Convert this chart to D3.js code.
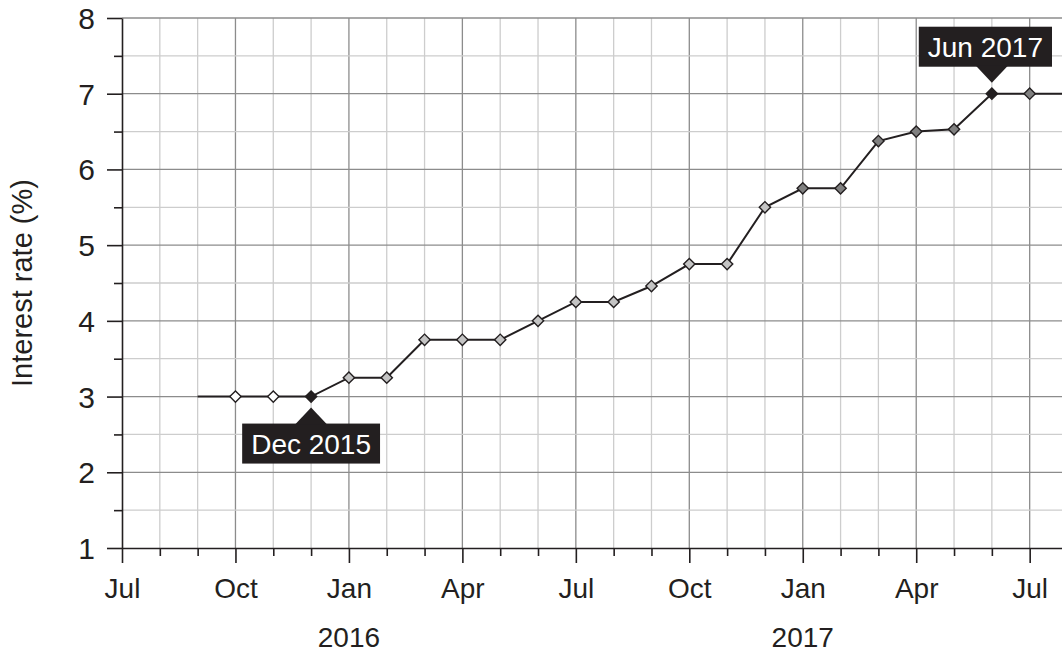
<!DOCTYPE html>
<html>
<head>
<meta charset="utf-8">
<script src="https://cdn.jsdelivr.net/npm/d3@7"></script>
<style>
    body { margin: 0; background: #fff; }
    svg { display: block; font-family: "Liberation Sans", Arial, sans-serif; }
</style>
</head>
<body>
<svg id="chart"></svg>
<script>
// months (yyyy-mm), one point per month; first and last only carry the line
var months = ['2015-09', '2015-10', '2015-11', '2015-12', '2016-01', '2016-02', '2016-03', '2016-04',
    '2016-05', '2016-06', '2016-07', '2016-08', '2016-09', '2016-10', '2016-11', '2016-12',
    '2017-01', '2017-02', '2017-03', '2017-04', '2017-05', '2017-06', '2017-07', '2017-08'];
var rates = [3, 3, 3, 3, 3.25, 3.25, 3.75, 3.75,
    3.75, 4, 4.25, 4.25, 4.46, 4.75, 4.75, 5.5,
    5.75, 5.75, 6.375, 6.5, 6.53, 7, 7, 7];
// marker kind per point: none / y2015 / y2016 / y2017 / hi
var markerKinds = ['none', 'y2015', 'y2015', 'hi', 'y2016', 'y2016', 'y2016', 'y2016',
    'y2016', 'y2016', 'y2016', 'y2016', 'y2016', 'y2016', 'y2016', 'y2016',
    'y2017', 'y2017', 'y2017', 'y2017', 'y2017', 'hi', 'y2017', 'none'];
var monthNames = ['Jan', 'Feb', 'Mar', 'Apr', 'May', 'Jun', 'Jul', 'Aug', 'Sep', 'Oct', 'Nov', 'Dec'];
var yearLabels = ['2016', '2017'];
var yTicks = [1, 2, 3, 4, 5, 6, 7, 8];
var callouts = [
    { month: '2015-12', text: 'Dec 2015', side: 'below' },
    { month: '2017-06', text: 'Jun 2017', side: 'above' }
];

var W = 1062, H = 655;
var ink = '#231f20';
var fills = { y2015: '#ffffff', y2016: '#c4c4c4', y2017: '#808080', hi: ink };

// month index counted from Jul 2015
function monthIndex(s) {
    var p = s.split('-');
    return (+p[0] - 2015) * 12 + (+p[1] - 7);
}

var x = d3.scaleLinear().domain([0, 25]).range([122, 122 + 25 * 37.82]);
var y = d3.scaleLinear().domain([1, 8]).range([548, 18]);

var svg = d3.select('#chart').attr('width', W).attr('height', H);

var points = months.map(function(m, i) {
    return { i: monthIndex(m), v: rates[i], kind: markerKinds[i] };
});

// grid
var monthSteps = d3.range(1, 26);
svg.append('g').selectAll('line').data(monthSteps).enter().append('line')
    .attr('x1', function(d) { return x(d); }).attr('x2', function(d) { return x(d); })
    .attr('y1', y(8)).attr('y2', y(1))
    .attr('stroke', function(d) { return d % 3 === 0 ? '#8c8c8c' : '#cdcdcd'; })
    .attr('stroke-width', 1.3);

var halfSteps = d3.range(1.5, 8.01, 0.5);
svg.append('g').selectAll('line').data(halfSteps).enter().append('line')
    .attr('x1', x(0)).attr('x2', W)
    .attr('y1', function(d) { return y(d); }).attr('y2', function(d) { return y(d); })
    .attr('stroke', function(d) { return d % 1 === 0 ? '#8c8c8c' : '#cdcdcd'; })
    .attr('stroke-width', 1.3);

// y axis
var yAxis = d3.axisLeft(y)
    .tickValues(d3.range(1, 8.01, 0.5))
    .tickSize(15)
    .tickSizeOuter(0)
    .tickPadding(12)
    .tickFormat(function(d) { return yTicks.indexOf(d) >= 0 ? d : ''; });
var gy = svg.append('g').attr('transform', 'translate(' + x(0) + ',0)').call(yAxis);
gy.selectAll('.tick line').attr('x2', function(d) { return d % 1 === 0 ? -15 : -8; });

// x axis
var xAxis = d3.axisBottom(x)
    .tickValues(d3.range(0, 26))
    .tickSize(15)
    .tickSizeOuter(0)
    .tickPadding(15)
    .tickFormat(function(d) { return d % 3 === 0 ? monthNames[(d + 6) % 12] : ''; });
var gx = svg.append('g').attr('transform', 'translate(0,' + y(1) + ')').call(xAxis);
gx.selectAll('.tick line').attr('y2', function(d) { return d % 3 === 0 ? 15 : 8; });

[gx, gy].forEach(function(g) {
    g.select('.domain').attr('stroke', ink).attr('stroke-width', 1.6);
    g.selectAll('.tick line').attr('stroke', ink).attr('stroke-width', 1.6);
    g.selectAll('.tick text').attr('fill', ink).style('font-family', null);
});
gx.selectAll('.tick text').attr('dy', '0.71em').style('font-size', '28px');
gy.selectAll('.tick text').attr('dy', '0.35em').style('font-size', '30px');

// years under January
svg.append('g').selectAll('text').data(yearLabels).enter().append('text')
    .attr('x', function(d) { return x(monthIndex(d + '-01')); })
    .attr('y', 647)
    .attr('text-anchor', 'middle')
    .attr('fill', ink)
    .style('font-size', '28px')
    .text(function(d) { return d; });

// y title
svg.append('text')
    .attr('transform', 'translate(32,' + (y(1) + y(8)) / 2 + ') rotate(-90)')
    .attr('text-anchor', 'middle')
    .attr('fill', ink)
    .style('font-size', '29px')
    .text('Interest rate (%)');

// line
var line = d3.line().x(function(d) { return x(d.i); }).y(function(d) { return y(d.v); });
svg.append('path').datum(points)
    .attr('d', line)
    .attr('fill', 'none')
    .attr('stroke', ink)
    .attr('stroke-width', 2);

// diamonds
var diamond = d3.symbol().type(d3.symbolSquare).size(64);
svg.append('g').selectAll('path').data(points.filter(function(d) { return d.kind !== 'none'; }))
    .enter().append('path')
    .attr('d', diamond)
    .attr('transform', function(d) { return 'translate(' + x(d.i) + ',' + y(d.v) + ') rotate(45)'; })
    .attr('fill', function(d) { return fills[d.kind]; })
    .attr('stroke', ink)
    .attr('stroke-width', 1.4);

// callouts
callouts.forEach(function(c) {
    var px = x(monthIndex(c.month));
    var py = y(rates[months.indexOf(c.month)]);
    var g = svg.append('g');
    var t = g.append('text')
        .attr('text-anchor', 'middle')
        .attr('fill', '#fff')
        .style('font-size', '28px')
        .text(c.text);
    var tw = t.node().getComputedTextLength();
    var bw = tw + 18, bh = 40, gap = 11, th = 16, hw = 16;
    var bx = Math.min(px - bw / 2, W - 10 - bw);
    var dir = c.side === 'below' ? 1 : -1;
    var apex = py + dir * gap;
    var edge = apex + dir * th;
    var by = dir > 0 ? edge : edge - bh;
    g.insert('rect', 'text')
        .attr('x', bx).attr('y', by).attr('width', bw).attr('height', bh)
        .attr('fill', ink);
    g.insert('path', 'text')
        .attr('d', 'M' + px + ',' + apex + 'L' + (px - hw) + ',' + (edge + dir) + 'L' + (px + hw) + ',' + (edge + dir) + 'Z')
        .attr('fill', ink);
    t.attr('x', bx + bw / 2).attr('y', by + bh / 2).attr('dy', '0.36em');
});
</script>
</body>
</html>
